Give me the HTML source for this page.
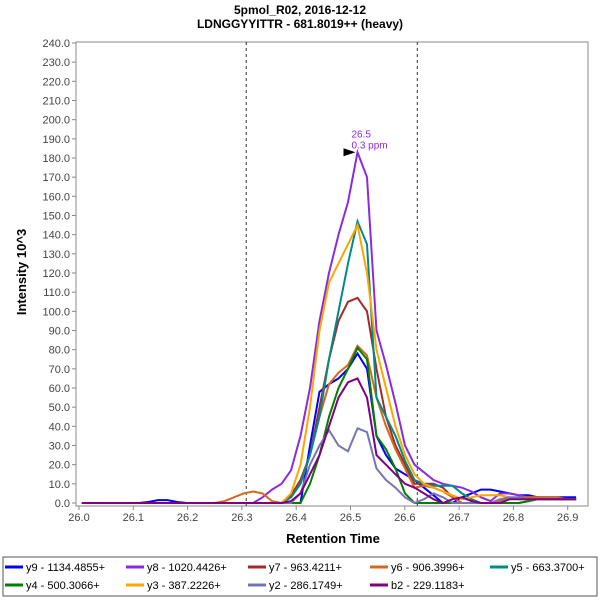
<!DOCTYPE html>
<html><head><meta charset="utf-8"><style>
body{margin:0;background:#fff;font-family:"Liberation Sans",sans-serif}
svg text{font-family:"Liberation Sans",sans-serif}
</style></head><body>
<svg id="chart" width="600" height="600" xmlns="http://www.w3.org/2000/svg">
<text x="300" y="14" text-anchor="middle" font-size="12" font-weight="bold">5pmol_R02, 2016-12-12</text>
<text x="300" y="28" text-anchor="middle" font-size="12" font-weight="bold">LDNGGYYITTR - 681.8019++ (heavy)</text>
<rect x="76" y="42" width="512" height="464" fill="#fff" stroke="#888"/>
<g id="yticks"></g><g id="xticks"></g><g id="marks"></g>
<text transform="translate(26,272) rotate(-90)" text-anchor="middle" font-size="13" font-weight="bold">Intensity 10^3</text>
<text x="333" y="543" text-anchor="middle" font-size="13" font-weight="bold">Retention Time</text>
<rect x="3" y="557" width="594" height="39" fill="#fff" stroke="#555"/>
<g id="legend"></g>
</svg>
<script>
const yTicks=[0,10,20,30,40,50,60,70,80,90,100,110,120,130,140,150,160,170,180,190,200,210,220,230,240];
const xTicks=[26.0,26.1,26.2,26.3,26.4,26.5,26.6,26.7,26.8,26.9];
const boundaries=[26.308,26.623];
const t0=26.0054, dt=0.0175;
const names=["y9 - 1134.4855+","y8 - 1020.4426+","y7 - 963.4211+","y6 - 906.3996+","y5 - 663.3700+","y4 - 500.3066+","y3 - 387.2226+","y2 - 286.1749+","b2 - 229.1183+"];
const colors=["#0000ff","#8a2be2","#a52a2a","#d2691e","#008b8b","#008000","#ffa500","#7575b5","#800080"];
const y9=[0,0,0,0,0,0,0,0.5,1.5,1.5,0.5,0,0,0,0,0,0,0,0,0,0,0,0,0,30,58,62,65,70,78,70,35,25,18,15,12,8,4,0,0,3,5,7,7,6,5,4,4,3,3,3,3,3];
const y8=[0,0,0,0,0,0,0,0,0,0,0,0,0,0,0,0,0,0,0,3,7,10,17,35,60,95,120,140,157,183,170,90,72,52,30,20,16,12,10,9,8,6,3,1,5,5,4,3,3,2,2,2,2];
const y7=[0,0,0,0,0,0,0,0,0,0,0,0,0,0,0,0,0,0,0,0,0,0,4,12,25,50,75,95,105,107,100,70,45,30,20,10,10,10,8,3,0,0,0,0,1,2,3,3,3,2,2,2,2];
const y6=[0,0,0,0,0,0,0,0,0,0,0,0,0,0,0,1,3,5,6,5,1,0,3,10,25,45,62,68,72,82,77,55,40,28,18,8,9,8,6,3,0,0,0,0,1,2,3,3,3,3,3,2,2];
const y5=[0,0,0,0,0,0,0,0,0,0,0,0,0,0,0,0,0,0,0,0,0,0,3,10,25,45,75,100,125,147,135,55,45,35,22,12,10,9,9,9,5,2,0,0,0,0,0,1,2,2,2,2,2];
const y4=[0,0,0,0,0,0,0,0,0,0,0,0,0,0,0,0,0,0,0,0,0,0,0,0,10,25,45,60,70,81,75,35,28,18,5,0,0,0,0,0,0,0,0,0,0,0,0,1,2,2,2,2,2];
const y3=[0,0,0,0,0,0,0,0,0,0,0,0,0,0,0,0,0,0,0,0,0,0,5,20,50,90,115,125,135,145,120,80,60,40,25,15,10,8,6,4,2,3,4,4,4,3,2,2,2,2,2,2,2];
const y2=[0,0,0,0,0,0,0,0,0,0,0,0,0,0,0,0,0,0,0,0,0,0,0,5,20,30,38,30,27,39,37,18,12,8,3,0,2,5,3,0,0,0,0,0,2,3,3,2,2,2,2,2,2];
const b2=[0,0,0,0,0,0,0,0,0,0,0,0,0,0,0,0,0,0,0,0,0,0,1,5,15,25,40,55,63,65,55,25,20,15,10,8,5,2,0,2,3,1,0,0,0,2,2,2,2,2,2,2,2];
const series=[y9,y8,y7,y6,y5,y4,y3,y2,b2];
const apexT=26.5129, apexV=183;
const NS="http://www.w3.org/2000/svg";
const X=t=>79+(t-26)*543, Y=v=>503-v*(460/240);
function mk(tag,attrs,parent){const e=document.createElementNS(NS,tag);for(const k in attrs)e.setAttribute(k,attrs[k]);parent.appendChild(e);return e;}
const yg=document.getElementById('yticks'),xg=document.getElementById('xticks'),mg=document.getElementById('marks'),lg=document.getElementById('legend');
yTicks.forEach(v=>{
 const l=mk('line',{x1:72,x2:76,y1:Y(v),y2:Y(v),stroke:'#888'},yg);
 
 
 const t=mk('text',{x:70,y:Y(v)+4,'text-anchor':'end','font-size':11,fill:'#444'},yg);
 
 
 t.textContent=v.toFixed(1);
});
xTicks.forEach(v=>{
 const l=mk('line',{x1:X(v),x2:X(v),y1:506,y2:510,stroke:'#888'},xg);
 
 
 const t=mk('text',{x:X(v),y:521,'text-anchor':'middle','font-size':11,fill:'#444'},xg);
 
 
 t.textContent=v.toFixed(1);
});
boundaries.forEach(b=>{
 const l=mk('line',{x1:X(b),x2:X(b),y1:42,y2:506,stroke:'#333','stroke-dasharray':'3,3'},mg);
 
 
});
series.forEach((s,k)=>{
 const pts=s.map((v,i)=>X(t0+i*dt).toFixed(1)+','+Y(v).toFixed(1)).join(' ');
 const p=mk('polyline',{points:pts,fill:'none',stroke:colors[k],'stroke-width':2},mg);
 
 
});
const ax=X(apexT),ay=Y(apexV);
const ar=mk('polygon',{points:`${ax-2},${ay} ${ax-14},${ay-4} ${ax-14},${ay+4}`,fill:'#000'},mg);


const a1=mk('text',{x:ax-6,y:ay-15,'font-size':10,fill:'#8a2be2'},mg);


a1.textContent=apexT.toFixed(1);
const a2=mk('text',{x:ax-6,y:ay-4,'font-size':10,fill:'#8a2be2'},mg);


a2.textContent='0.3 ppm';
const lx=[5,126,248,370,490];
names.forEach((n,k)=>{
 const x=lx[k%5],y=k<5?567:585;
 const l=mk('line',{x1:x,x2:x+18,y1:y,y2:y,stroke:colors[k],'stroke-width':3},lg);
 
 
 const t=mk('text',{x:x+21,y:y+4,'font-size':11,fill:'#000'},lg);
 
 
 t.textContent=n;
});
</script>
</body></html>
